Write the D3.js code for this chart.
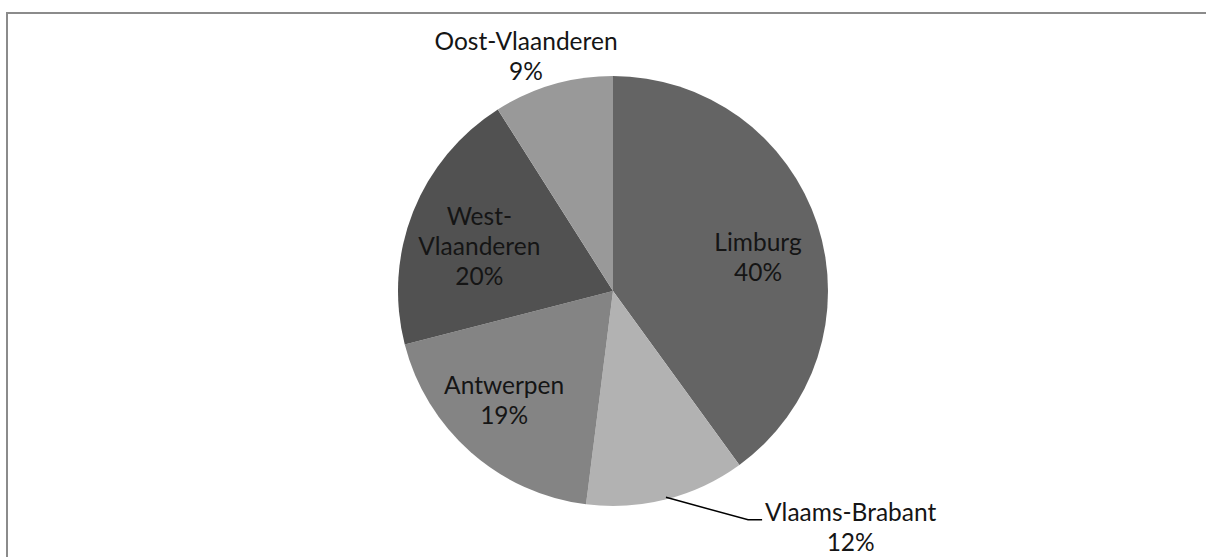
<!DOCTYPE html>
<html>
<head>
<meta charset="utf-8">
<script src="https://cdn.jsdelivr.net/npm/d3@7"></script>
<style>
  html, body { margin: 0; padding: 0; background: #fff; overflow: hidden; }
  svg { display: block; }
  text { font-family: Lato, "Open Sans", sans-serif; fill: #151515; }
</style>
</head>
<body>
<svg></svg>
<script>
(function (d3) {
  'use strict';

  // data
  var provinces = ["Limburg", "Vlaams-Brabant", "Antwerpen", "West-Vlaanderen", "Oost-Vlaanderen"];
  var shares = [40, 12, 19, 20, 9];
  var labelLines = [["Limburg"], ["Vlaams-Brabant"], ["Antwerpen"], ["West-", "Vlaanderen"], ["Oost-Vlaanderen"]];

  // styling per slice (greys, clockwise from 12 o'clock)
  var sliceColors = ["#646464", "#b2b2b2", "#848484", "#515151", "#999999"];
  // label placement: radius factor and angle nudge (deg) from the slice middle
  var labelPlace = [
    { r: 0.693, da: 4.8,   outside: false },
    { r: 1.306, da: -18.4, outside: true  },
    { r: 0.716, da: 3.6,   outside: false },
    { r: 0.656, da: -3.0,  outside: false },
    { r: 1.166, da: -4.1,  outside: false }
  ];

  var width = 1206,
      height = 557,
      cx = 613, cy = 291,
      radius = 215,
      fontSize = 24.5,
      lineH = 30;

  var svg = d3.select("svg")
    .attr("width", width)
    .attr("height", height);

  // chart frame (right and bottom edges run off the page)
  svg.append("rect")
    .attr("x", 7).attr("y", 13)
    .attr("width", 1300).attr("height", 700)
    .attr("fill", "none")
    .attr("stroke", "#8b8b8b")
    .attr("stroke-width", 2);

  var table = provinces.map(function (p, i) {
    return { name: p, value: shares[i], lines: labelLines[i], color: sliceColors[i], place: labelPlace[i] };
  });

  var pie = d3.pie().sort(null).value(function (d) { return d.value; });
  var arcs = pie(table);

  var arc = d3.arc().innerRadius(0).outerRadius(radius);

  var g = svg.append("g").attr("transform", "translate(" + cx + "," + cy + ")");

  g.selectAll("path.slice")
    .data(arcs)
    .enter().append("path")
      .attr("class", "slice")
      .attr("d", arc)
      .attr("fill", function (d) { return d.data.color; });

  function polar(angle, r) {
    return [r * Math.sin(angle), -r * Math.cos(angle)];
  }

  arcs.forEach(function (d) {
    var mid = (d.startAngle + d.endAngle) / 2;
    var p = d.data.place;
    var pos = polar(mid + p.da * Math.PI / 180, p.r * radius);
    var lines = d.data.lines.concat([d.data.value + "%"]);
    var firstBase = pos[1] - (lines.length - 1) * lineH / 2 + fontSize * 0.36;

    if (p.outside) {
      // leader line: slice edge -> elbow -> text start
      var edge = polar(mid, radius - 2);
      var lineY = firstBase - 1;
      var textX = pos[0];
      g.append("path")
        .attr("d", d3.line()([edge, [textX - 17, lineY], [textX - 3, lineY]]))
        .attr("fill", "none")
        .attr("stroke", "#000")
        .attr("stroke-width", 1.5);

      var block = g.append("text")
        .attr("font-size", fontSize + "px");
      // name starts at the line end, percentage centred under it
      block.append("tspan")
        .attr("x", textX)
        .attr("y", firstBase)
        .attr("text-anchor", "start")
        .text(lines[0]);
      var w = block.node().getComputedTextLength();
      g.append("text")
        .attr("font-size", fontSize + "px")
        .attr("x", textX + w / 2)
        .attr("y", firstBase + lineH)
        .attr("text-anchor", "middle")
        .text(lines[1]);
    } else {
      var t = g.append("text")
        .attr("font-size", fontSize + "px")
        .attr("text-anchor", "middle");
      t.selectAll("tspan")
        .data(lines)
        .enter().append("tspan")
          .attr("x", pos[0])
          .attr("y", function (l, i) { return firstBase + i * lineH; })
          .text(function (l) { return l; });
    }
  });

}(d3));
</script>
</body>
</html>
